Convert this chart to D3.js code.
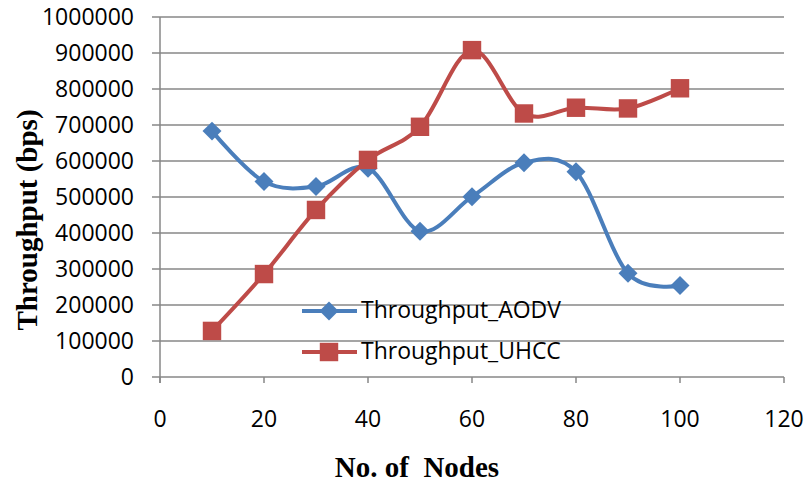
<!DOCTYPE html>
<html>
<head>
<meta charset="utf-8">
<script src="https://cdn.jsdelivr.net/npm/d3@7"></script>
<style>
  body { margin: 0; background: #fff; }
  svg { display: block; }
  .tick-label { font-family: "Open Sans", sans-serif; font-size: 23px; fill: #000; }
  .legend-label { font-family: "Open Sans", sans-serif; font-size: 23px; fill: #000; }
  .axis-title { font-family: "Liberation Serif", serif; font-weight: bold; font-size: 29px; fill: #000; }
</style>
</head>
<body>
<script>
// Chart data
const nodes = [10, 20, 30, 40, 50, 60, 70, 80, 90, 100];
const aodv = [683000, 543000, 529000, 580000, 405000, 501000, 595000, 570000, 288000, 254000];
const uhcc = [128000, 286000, 464000, 603000, 695000, 908000, 732000, 748000, 746000, 802000];
const seriesNames = ["Throughput_AODV", "Throughput_UHCC"];
const xTicks = [0, 20, 40, 60, 80, 100, 120];
const yTicks = [0, 100000, 200000, 300000, 400000, 500000, 600000, 700000, 800000, 900000, 1000000];

// Layout
const width = 806;
const height = 482;
const plot = {left: 160, right: 784, top: 17, bottom: 377};
const blue = "#4A7EBB";
const red = "#BE4B48";
const gridColor = "#878787";

var svg = d3.select('body')
  .append('svg')
  .attr('width', width)
  .attr('height', height);

// Scales
var x = d3.scaleLinear().domain([0, 120]).range([plot.left, plot.right]);
var y = d3.scaleLinear().domain([0, 1000000]).range([plot.bottom, plot.top]);

// Horizontal gridlines + y ticks
svg.append('g')
  .selectAll('line')
  .data(yTicks)
  .join('line')
  .attr('x1', plot.left - 8)
  .attr('x2', plot.right)
  .attr('y1', d => y(d))
  .attr('y2', d => y(d))
  .attr('stroke', gridColor)
  .attr('stroke-width', 1.5);

// y axis line
svg.append('line')
  .attr('x1', plot.left).attr('x2', plot.left)
  .attr('y1', plot.top).attr('y2', plot.bottom + 6)
  .attr('stroke', gridColor)
  .attr('stroke-width', 1.5);

// x ticks
svg.append('g')
  .selectAll('line')
  .data(xTicks)
  .join('line')
  .attr('x1', d => x(d)).attr('x2', d => x(d))
  .attr('y1', plot.bottom).attr('y2', plot.bottom + 6)
  .attr('stroke', gridColor)
  .attr('stroke-width', 1.5);

// y tick labels
svg.append('g')
  .selectAll('text')
  .data(yTicks)
  .join('text')
  .classed('tick-label', true)
  .attr('x', 134)
  .attr('y', d => y(d))
  .attr('dy', '0.36em')
  .attr('text-anchor', 'end')
  .text(d => d);

// x tick labels
svg.append('g')
  .selectAll('text')
  .data(xTicks)
  .join('text')
  .classed('tick-label', true)
  .attr('x', d => x(d))
  .attr('y', 427)
  .attr('text-anchor', 'middle')
  .text(d => d);

// Axis titles
svg.append('text')
  .classed('axis-title', true)
  .attr('x', 417)
  .attr('y', 477)
  .attr('text-anchor', 'middle')
  .attr('xml:space', 'preserve')
  .style('white-space', 'pre')
  .text('No. of  Nodes');

svg.append('text')
  .classed('axis-title', true)
  .attr('transform', 'translate(37,220) rotate(-90)')
  .attr('text-anchor', 'middle')
  .text('Throughput (bps)');

// Lines
var line = d3.line()
  .x((d, i) => x(nodes[i]))
  .y(d => y(d))
  .curve(d3.curveCatmullRom.alpha(0));

function drawSeries(values, color, marker) {
  var g = svg.append('g');
  g.append('path')
    .datum(values)
    .attr('d', line)
    .attr('fill', 'none')
    .attr('stroke', color)
    .attr('stroke-width', 4)
    .attr('stroke-linejoin', 'round');
  g.selectAll('path.mark')
    .data(values)
    .join('path')
    .classed('mark', true)
    .attr('d', marker.d)
    .attr('transform', (d, i) => 'translate(' + x(nodes[i]) + ',' + y(d) + ')' + marker.rot)
    .attr('fill', color);
}

var aodvMarker = {d: d3.symbol().type(d3.symbolSquare).size(180)(), rot: ' rotate(45)'};
var uhccMarker = {d: d3.symbol().type(d3.symbolSquare).size(340)(), rot: ''};

drawSeries(aodv, blue, aodvMarker);
drawSeries(uhcc, red, uhccMarker);

// Legend
var legend = svg.append('g');
var legendRows = [
  {name: seriesNames[0], color: blue, marker: aodvMarker, y: 311},
  {name: seriesNames[1], color: red, marker: uhccMarker, y: 352}
];
legendRows.forEach(function(r) {
  legend.append('line')
    .attr('x1', 302).attr('x2', 357)
    .attr('y1', r.y).attr('y2', r.y)
    .attr('stroke', r.color)
    .attr('stroke-width', 4);
  legend.append('path')
    .attr('d', r.marker.d)
    .attr('transform', 'translate(329,' + r.y + ')' + r.marker.rot)
    .attr('fill', r.color);
  legend.append('text')
    .classed('legend-label', true)
    .attr('x', 361)
    .attr('y', r.y)
    .attr('dy', '0.3em')
    .text(r.name);
});
</script>
</body>
</html>
